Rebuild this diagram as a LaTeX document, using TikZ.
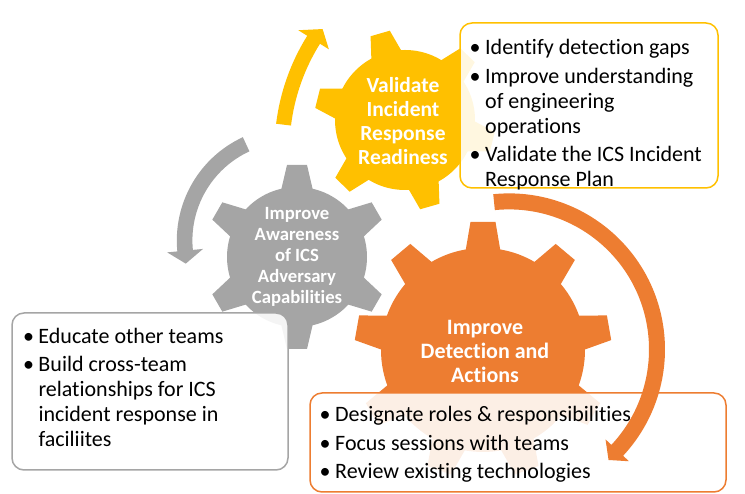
\documentclass[tikz,border=0pt]{standalone}
\usepackage{fontspec}
\setmainfont{Carlito}[Ligatures=NoCommon]
\usetikzlibrary{calc}

\definecolor{gearyellow}{HTML}{FFC000}
\definecolor{geargray}{HTML}{A5A5A5}
\definecolor{gearorange}{HTML}{ED7D31}

\tikzset{
  geartext/.style={text=white, align=center, inner sep=0pt},
  notebox/.style={draw, line width=1.5pt, rounded corners=12pt, fill=white, fill opacity=0.88},
  notetext/.style={align=left, inner sep=0pt, anchor=north west, font=\fontsize{22}{25}\selectfont},
}
\newcommand{\bul}{\llap{\textbullet\hspace{4.5pt}}}

\begin{document}
\begin{tikzpicture}[x=1pt, y=1pt]
  \useasboundingbox (0,0) rectangle (745,494);
  \coordinate (Y) at (405,374);
  \coordinate (G) at (297,237);
  \coordinate (O) at (483,144);

  \fill[geargray] (G) circle (70);
  \foreach \a in {30,90,...,330}
    \fill[geargray, shift={(G)}, rotate=\a] (60,-17.5) -- (92,-10) -- (92,10) -- (60,17.5) -- cycle;
  \fill[gearyellow] (Y) circle (70);
  \foreach \a in {106,166,...,406}
    \fill[gearyellow, shift={(Y)}, rotate=\a] (60,-17.5) -- (90,-10) -- (90,10) -- (60,17.5) -- cycle;
  \fill[gearorange] (O) circle (102);
  \foreach \a in {10,50,...,330}
    \fill[gearorange, shift={(O)}, rotate=\a] (90,-19) -- (128,-12.5) -- (128,12.5) -- (90,19) -- cycle;

  \node[geartext, font=\bfseries\fontsize{21.5}{24}\selectfont] (valid) at (403,373)
    {Validate\\Incident\\Response\\Readiness};
  \node[geartext, font=\bfseries\fontsize{18.7}{21}\selectfont] (aware) at (297,237)
    {Improve\\Awareness\\of ICS\\Adversary\\Capabilities};
  \node[geartext, font=\bfseries\fontsize{22}{24}\selectfont] (detect) at (485,143)
    {Improve\\Detection and\\Actions};

  \node[notebox, draw=gearyellow, minimum width=258pt, minimum height=165pt] (validbox) at (589,388.5) {};
  \node[notebox, draw=geargray, minimum width=276pt, minimum height=157pt] (awarebox) at (150,102.5) {};
  \node[notebox, draw=gearorange, minimum width=416pt, minimum height=99pt] (detectbox) at (518,51.5) {};

  \node[notetext] (validlist) at (485,454.6)
    {\bul Identify detection gaps\\[3.5pt]\bul Improve understanding\\of engineering\\operations\\[3.5pt]\bul Validate the ICS Incident\\Response Plan};
  \node[notetext] (awarelist) at (38.3,166.3)
    {\bul Educate other teams\\[3.5pt]\bul Build cross-team\\relationships for ICS\\incident response in\\faciliites};
  \node[notetext] (detectlist) at (335,87.9)
    {\bul Designate roles \& responsibilities\\[3.5pt]\bul Focus sessions with teams\\[3.5pt]\bul Review existing technologies};

  \coordinate (ya) at (490,344);
  \coordinate (ga) at (290.6,253.5);
  \coordinate (oa) at (509,144.6);

  \begin{scope}[shift={(ya)}]
    \path (148:208) ++(50:14) coordinate (ytip);
    \fill[gearyellow] (173:215.5) arc[start angle=173, end angle=148, radius=215.5]
      -- (148:226) -- (ytip) -- (148:190) -- (148:200.5)
      arc[start angle=148, end angle=173, radius=200.5] -- cycle;
  \end{scope}
  \begin{scope}[shift={(ga)}]
    \path (185.5:106) ++(273:13) coordinate (gtip);
    \fill[geargray] (114.8:113.8) arc[start angle=114.8, end angle=185.5, radius=113.8]
      -- (185.5:124) -- (gtip) -- (185.5:88) -- (185.5:98.2)
      arc[start angle=185.5, end angle=114.8, radius=98.2] -- cycle;
  \end{scope}
  \begin{scope}[shift={(oa)}]
    \path (-43:148) ++(228:13) coordinate (otip);
    \fill[gearorange] (95.8:156) arc[start angle=95.8, end angle=-43, radius=156]
      -- (-43:164) -- (otip) -- (-43:132) -- (-43:140)
      arc[start angle=-43, end angle=95.8, radius=140] -- cycle;
  \end{scope}
\end{tikzpicture}
\end{document}
